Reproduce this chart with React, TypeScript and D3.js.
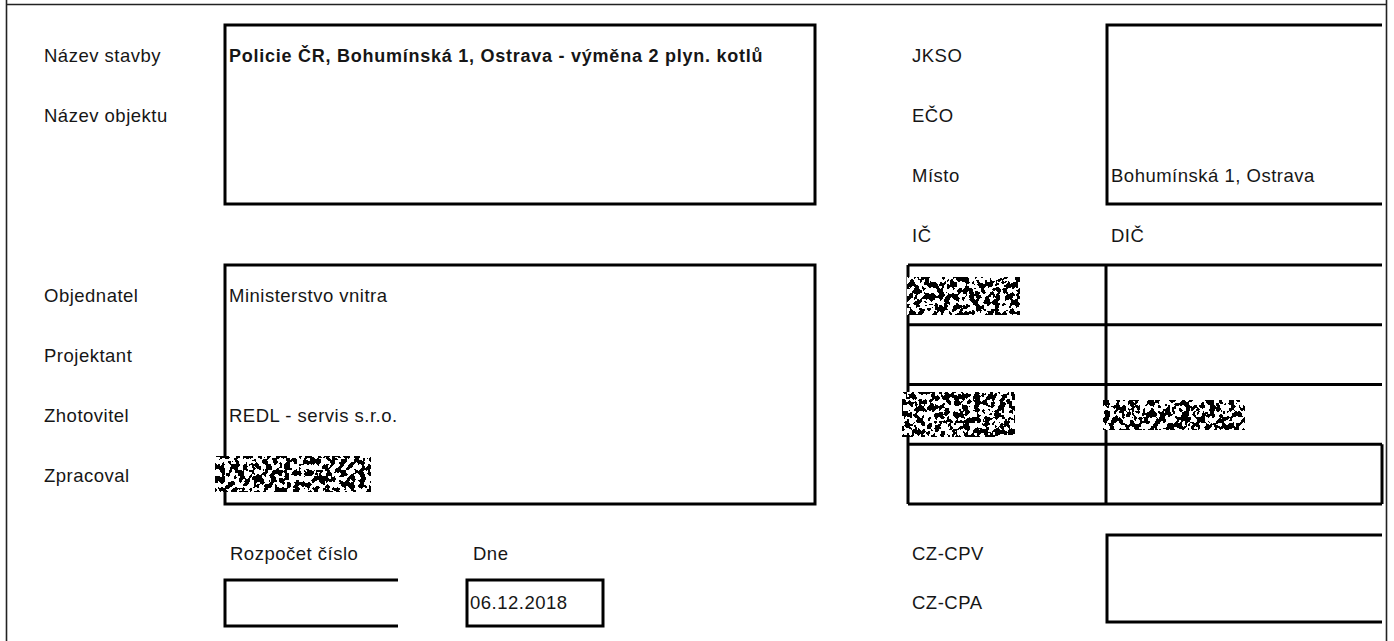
import React, { useEffect, useRef } from "react";
import * as d3 from "d3";

// ---- content ----
const leftLabels = ["Název stavby", "Název objektu", "", "", "Objednatel", "Projektant", "Zhotovitel", "Zpracoval"];
const rightLabels = ["JKSO", "EČO", "Místo", "IČ"];
const valueTexts = [
  { text: "Policie ČR, Bohumínská 1, Ostrava - výměna 2 plyn. kotlů", col: "value", row: 0, bold: true },
  { text: "Ministerstvo vnitra", col: "value", row: 4, bold: false },
  { text: "REDL - servis s.r.o.", col: "value", row: 6, bold: false },
  { text: "Bohumínská 1, Ostrava", col: "rightValue", row: 2, bold: false },
  { text: "DIČ", col: "rightValue", row: 3, bold: false },
];
const bottomLabels = [
  { text: "Rozpočet číslo", col: "budget", row: 0 },
  { text: "Dne", col: "date", row: 0 },
  { text: "06.12.2018", col: "dateValue", row: 1 },
  { text: "CZ-CPV", col: "right", row: 0 },
  { text: "CZ-CPA", col: "right", row: 1 },
];
const gridRows = [0, 1, 2, 3, 4];

export default function App() {
  const ref = useRef<SVGSVGElement | null>(null);

  useEffect(() => {
    const svg = d3.select(ref.current);
    svg.selectAll("*").remove();

    const colX: Record<string, number> = {
      left: 44, value: 229, right: 912, rightValue: 1111,
      budget: 230, date: 473, dateValue: 470,
    };
    const rowY = d3.scaleLinear().domain([0, 7]).range([62, 482]);
    const bottomY = d3.scaleLinear().domain([0, 1]).range([560, 609]);
    const gridY = d3.scaleLinear().domain([0, 4]).range([265, 504]);

    // pixelation-like texture for the redacted fields
    const defs = svg.append("defs");
    const f = defs.append("filter").attr("id", "mosaic")
      .attr("x", 0).attr("y", 0).attr("width", 1).attr("height", 1);
    f.append("feTurbulence").attr("type", "fractalNoise").attr("baseFrequency", "0.2 0.17")
      .attr("numOctaves", 2).attr("seed", 11);
    f.append("feColorMatrix").attr("type", "matrix")
      .attr("values", "0 0 0 0 0  0 0 0 0 0  0 0 0 0 0  1.8 0 0 0 -0.4");
    f.append("feComponentTransfer").append("feFuncA").attr("type", "discrete").attr("tableValues", "0 1");

    svg.append("rect").attr("width", 1394).attr("height", 641).attr("fill", "#fff");

    const frame = svg.append("g").attr("stroke", "#222").attr("stroke-width", 1.6).attr("fill", "none");
    frame.append("path").attr("d", "M6.5,0V641 M6,4.5H1386.5 M1386.5,0V641");

    const thick = svg.append("g").attr("stroke", "#000").attr("stroke-width", 3).attr("fill", "none");
    thick.append("rect").attr("x", 225).attr("y", 25).attr("width", 590).attr("height", 179);
    thick.append("rect").attr("x", 225).attr("y", gridY(0)).attr("width", 590).attr("height", gridY(4) - gridY(0));
    thick.append("path").attr("d", "M1382,25H1107V204H1382");
    thick.selectAll("line.h").data(gridRows).join("line")
      .attr("x1", 908).attr("x2", 1382)
      .attr("y1", (d) => gridY(d)).attr("y2", (d) => gridY(d));
    thick.append("path").attr("d", `M908,${gridY(0)}V${gridY(4)} M1106,${gridY(0)}V${gridY(4)} M1382,${gridY(3)}V${gridY(4)}`);
    thick.append("path").attr("d", "M398,580H225V626H398");
    thick.append("rect").attr("x", 467).attr("y", 580).attr("width", 136).attr("height", 46);
    thick.append("path").attr("d", "M1382,535H1107V622H1382");

    const text = svg.append("g").attr("font-family", "'Liberation Sans', Arial, sans-serif")
      .attr("font-size", 18.5).attr("fill", "#161616").attr("letter-spacing", 0.5);

    text.selectAll("text.l").data(leftLabels.map((t, i) => ({ t, i })).filter((d) => d.t)).join("text")
      .attr("x", colX.left).attr("y", (d) => rowY(d.i)).text((d) => d.t);
    text.selectAll("text.r").data(rightLabels).join("text")
      .attr("x", colX.right).attr("y", (_, i) => rowY(i)).text((d) => d);
    text.selectAll("text.v").data(valueTexts).join("text")
      .attr("x", (d) => colX[d.col]).attr("y", (d) => rowY(d.row))
      .attr("font-weight", (d) => (d.bold ? "bold" : "normal"))
      .attr("font-size", (d) => (d.bold ? 18 : 18.5))
      .attr("letter-spacing", (d) => (d.bold ? 0.75 : 0.5))
      .text((d) => d.text);
    text.selectAll("text.b").data(bottomLabels).join("text")
      .attr("x", (d) => colX[d.col]).attr("y", (d) => bottomY(d.row)).text((d) => d.text);

    const redactions = [
      { x: 215, y: 456, w: 156, h: 36 },
      { x: 907, y: 277, w: 113, h: 38 },
      { x: 902, y: 392, w: 113, h: 45 },
      { x: 1103, y: 400, w: 142, h: 30 },
    ];
    const rg = svg.append("g");
    rg.selectAll("rect.bg").data(redactions).join("rect")
      .attr("x", (d) => d.x).attr("y", (d) => d.y).attr("width", (d) => d.w).attr("height", (d) => d.h)
      .attr("fill", "#fff");
    rg.selectAll("rect.fg").data(redactions).join("rect")
      .attr("x", (d) => d.x).attr("y", (d) => d.y).attr("width", (d) => d.w).attr("height", (d) => d.h)
      .attr("fill", "#0a0a0a").attr("filter", "url(#mosaic)");
  }, []);

  return (
    <svg ref={ref} width={1394} height={641}
      style={{ position: "absolute", left: 0, top: 0, display: "block" }} />
  );
}
